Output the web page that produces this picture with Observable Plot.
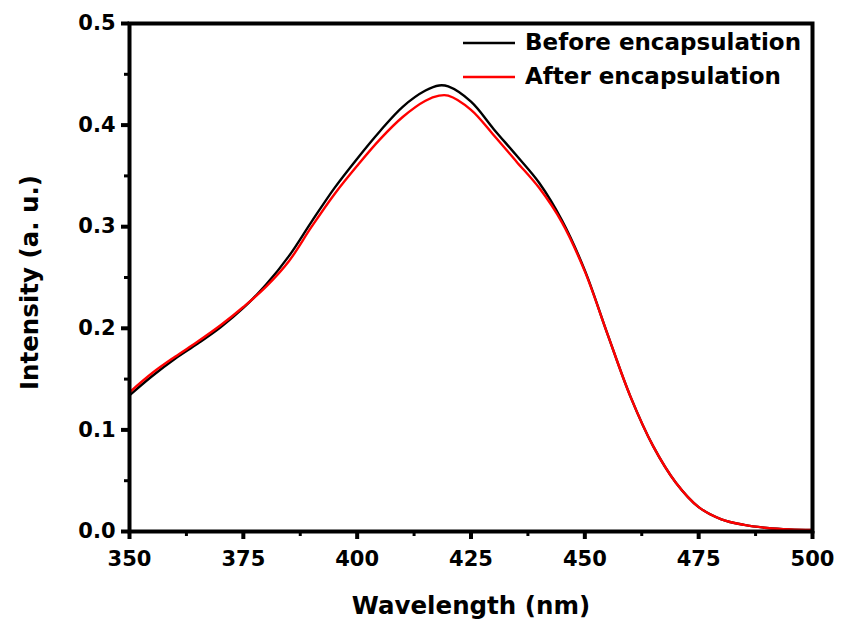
<!DOCTYPE html>
<html>
<head>
<meta charset="utf-8">
<script src="https://cdn.jsdelivr.net/npm/d3@7"></script>
<script src="https://cdn.jsdelivr.net/npm/@observablehq/plot@0.6"></script>
<style>
  html, body { margin: 0; padding: 0; background: #ffffff; }
  #chart { position: relative; width: 841px; height: 633px; }
</style>
</head>
<body>
<div id="chart"></div>
<script>
// ---- data ----
const wavelength = [350,355,360,365,370,375,380,385,390,395,400,405,410,415,418,420,425,430,435,440,445,450,455,460,465,470,475,480,485,490,495,500];
const beforeEncapsulation = [0.134,0.153,0.170,0.185,0.201,0.220,0.243,0.271,0.305,0.338,0.367,0.394,0.418,0.434,0.439,0.438,0.423,0.396,0.370,0.343,0.306,0.257,0.194,0.133,0.084,0.048,0.024,0.012,0.0065,0.0035,0.002,0.0015];
const afterEncapsulation  = [0.137,0.156,0.172,0.187,0.203,0.221,0.241,0.266,0.300,0.332,0.360,0.386,0.408,0.424,0.429,0.429,0.415,0.390,0.364,0.338,0.304,0.256,0.194,0.133,0.084,0.048,0.024,0.012,0.0065,0.0035,0.002,0.0015];
const seriesNames = ["Before encapsulation", "After encapsulation"];
const seriesColors = ["#000000", "#ff0000"];
const xTicks = [350, 375, 400, 425, 450, 475, 500];
const xMinorTicks = [362.5, 387.5, 412.5, 437.5, 462.5, 487.5];
const yTicks = [0, 0.1, 0.2, 0.3, 0.4, 0.5];
const yMinorTicks = [0.05, 0.15, 0.25, 0.35, 0.45];
const xTitle = "Wavelength (nm)";
const yTitle = "Intensity (a. u.)";

// tidy table for Plot
const seriesValues = [beforeEncapsulation, afterEncapsulation];
const rows = [];
seriesNames.forEach((name, s) => {
  wavelength.forEach((w, i) => rows.push({series: name, wavelength: w, intensity: seriesValues[s][i]}));
});

const FONT = "'DejaVu Sans', sans-serif";

const chart = Plot.plot({
  width: 841,
  height: 633,
  marginLeft: 129,
  marginRight: 29,
  marginTop: 23,
  marginBottom: 102,
  style: {fontFamily: FONT, fontWeight: "bold", fontSize: "21px", color: "#000", background: "#fff", overflow: "visible"},
  x: {domain: [350, 500]},
  y: {domain: [0, 0.5]},
  color: {domain: seriesNames, range: seriesColors},
  marks: [
    Plot.line(rows, {x: "wavelength", y: "intensity", z: "series", stroke: "series", strokeWidth: 2.4, curve: "catmull-rom"}),
    Plot.frame({stroke: "#000", strokeWidth: 4}),
    Plot.axisX(xMinorTicks, {tickSize: 5, strokeWidth: 3, text: null, label: null}),
    Plot.axisX(xTicks, {tickSize: 8, strokeWidth: 4, tickPadding: 12, tickFormat: d => String(d), label: null}),
    Plot.axisY(yMinorTicks, {tickSize: 5, strokeWidth: 3, text: null, label: null}),
    Plot.axisY(yTicks, {tickSize: 8, strokeWidth: 4, tickPadding: 6, tickFormat: d3.format(".1f"), label: null}),
    Plot.text([xTitle], {frameAnchor: "bottom", dy: 82, textAnchor: "middle", fontSize: 24.5, fontWeight: "bold", fill: "#000"}),
    Plot.text([yTitle], {frameAnchor: "left", dx: -99, dy: 5, rotate: -90, textAnchor: "middle", lineAnchor: "middle", fontSize: 24.5, fontWeight: "bold", fill: "#000"})
  ]
});

document.getElementById("chart").appendChild(chart);

// legend (inside the plot frame, top right)
const svg = d3.select(chart);
const legend = svg.append("g")
  .attr("font-family", FONT).attr("font-weight", "bold").attr("font-size", 23)
  .attr("text-anchor", "start");
seriesNames.forEach((name, i) => {
  const cy = 43 + i * 34;
  legend.append("line").attr("x1", 463).attr("x2", 515).attr("y1", cy).attr("y2", cy)
    .attr("stroke", seriesColors[i]).attr("stroke-width", 2.4);
  legend.append("text").attr("x", 525).attr("y", cy - 1.5).attr("dy", "0.35em")
    .attr("text-anchor", "start").attr("fill", "#000").text(name);
});
</script>
</body>
</html>
